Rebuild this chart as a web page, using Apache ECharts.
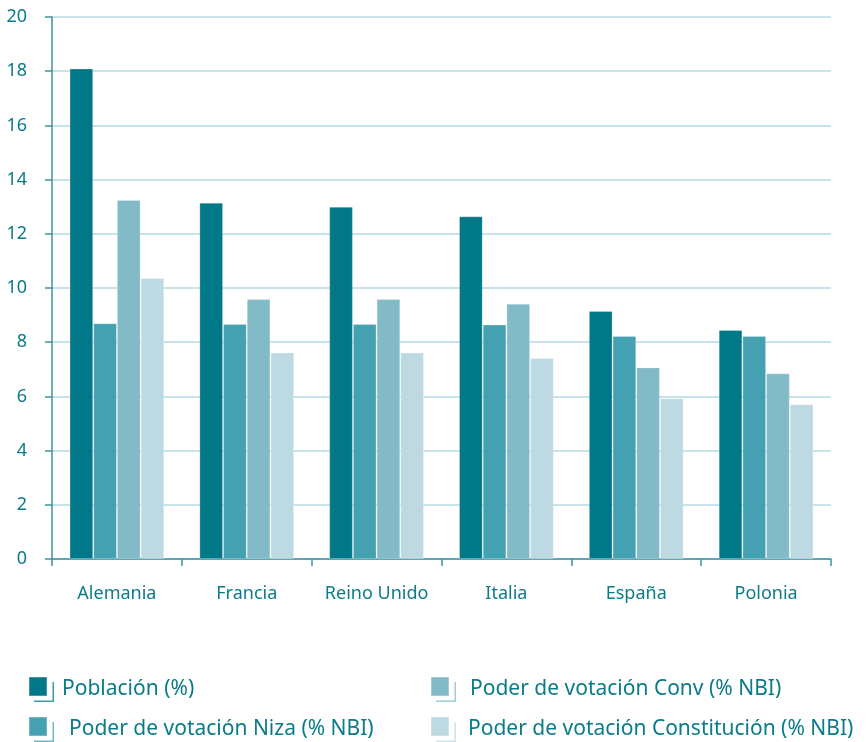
<!DOCTYPE html>
<html style="width: 100%;height:100%;">

<head>
    <meta charset="utf-8">
    <title>Poder de votación</title>
    <script src="https://cdn.jsdelivr.net/npm/echarts@6/dist/echarts.min.js"></script>
    <style>
        html, body {
            margin: 0;
            padding: 0;
            background: #ffffff;
        }
        #chart {
            width: 867px;
            height: 742px;
        }
    </style>
</head>

<body>
    <div id="chart"></div>
    <script>
        const countries = ['Alemania', 'Francia', 'Reino Unido', 'Italia', 'España', 'Polonia'];
        const poblacion = [18.1, 13.15, 13.0, 12.65, 9.15, 8.45];
        const niza = [8.7, 8.67, 8.67, 8.65, 8.23, 8.23];
        const conv = [13.25, 9.59, 9.59, 9.42, 7.07, 6.85];
        const constitucion = [10.37, 7.62, 7.62, 7.42, 5.93, 5.71];

        const seriesNames = [
            'Población (%)',
            'Poder de votación Niza (% NBI)',
            'Poder de votación Conv (% NBI)',
            'Poder de votación Constitución (% NBI)'
        ];
        const colors = ['#007888', '#43a1b1', '#82bac8', '#bddae3'];
        const textColor = '#0b7b8a';
        const font = '"Noto Sans", sans-serif';

        // square with a thin offset outline, like the legend keys in the source
        const keyIcon = 'path://M0,0h18v19h-18z M23.5,5h1.5v20h-20v-1.5h18.5z';

        function legendAt(name, left, top, pad) {
            return {
                data: [name],
                left: left,
                top: top,
                padding: 0,
                itemWidth: 25,
                itemHeight: 25,
                icon: keyIcon,
                selectedMode: false,
                textStyle: {
                    color: textColor,
                    fontFamily: font,
                    fontSize: 21,
                    padding: [0, 0, 0, pad]
                }
            };
        }

        const chart = echarts.init(document.getElementById('chart'));
        const data = [poblacion, niza, conv, constitucion];

        chart.setOption({
            animation: false,
            color: colors,
            grid: {
                left: 52,
                right: 36,
                top: 17,
                bottom: 183,
                containLabel: false
            },
            legend: [
                legendAt(seriesNames[0], 28, 676, 3),
                legendAt(seriesNames[1], 28, 716, 10),
                legendAt(seriesNames[2], 430, 676, 9),
                legendAt(seriesNames[3], 430, 716, 7)
            ],
            xAxis: {
                type: 'category',
                data: countries,
                axisLine: { lineStyle: { color: '#3d92a0', width: 1.5 } },
                axisTick: { show: true, length: 7, lineStyle: { color: '#3d92a0', width: 1.5 } },
                axisLabel: {
                    interval: 0,
                    color: textColor,
                    fontFamily: font,
                    fontSize: 18,
                    margin: 26
                }
            },
            yAxis: {
                type: 'value',
                min: 0,
                max: 20,
                interval: 2,
                axisLine: { show: true, lineStyle: { color: '#3d92a0', width: 1.5 } },
                axisTick: { show: true, length: 7, lineStyle: { color: '#3d92a0', width: 1.5 } },
                axisLabel: {
                    color: textColor,
                    fontFamily: font,
                    fontSize: 18,
                    margin: 25
                },
                splitLine: { lineStyle: { color: '#c7e3e9', width: 2 } }
            },
            series: data.map((vals, i) => ({
                name: seriesNames[i],
                type: 'bar',
                data: vals,
                barGap: '0%',
                barCategoryGap: '27%',
                itemStyle: {
                    color: colors[i],
                    borderColor: 'rgba(255,255,255,0.25)',
                    borderWidth: 1
                }
            }))
        });
    </script>
</body>

</html>
